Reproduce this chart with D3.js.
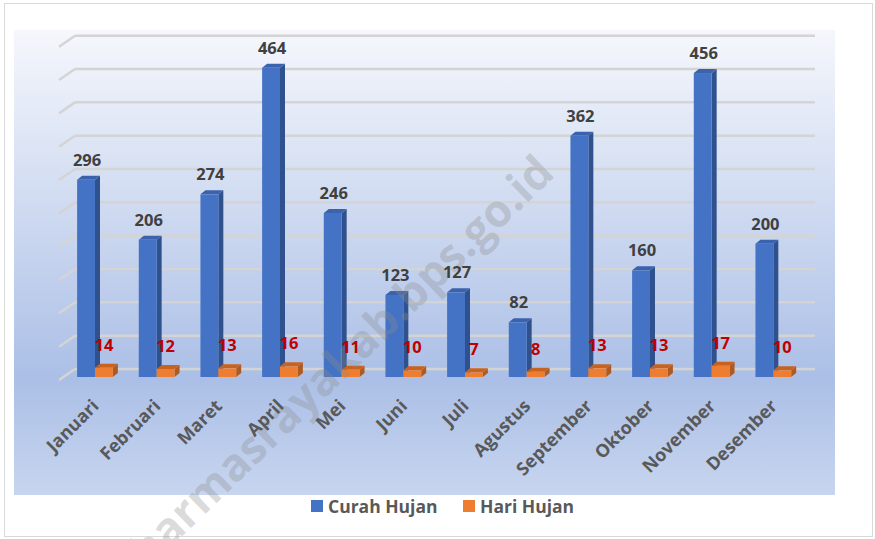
<!DOCTYPE html>
<html>
<head>
<meta charset="utf-8">
<script src="https://cdn.jsdelivr.net/npm/d3@7"></script>
<style>
  body { margin: 0; background: #fff; }
  text { font-family: "Open Sans", "Noto Sans", sans-serif; font-weight: bold; }
</style>
</head>
<body>
<div id="chart"></div>
<script>
const months = ["Januari", "Februari", "Maret", "April", "Mei", "Juni", "Juli", "Agustus", "September", "Oktober", "November", "Desember"]
const curahHujan = [296, 206, 274, 464, 246, 123, 127, 82, 362, 160, 456, 200]
const hariHujan = [14, 12, 13, 16, 11, 10, 7, 8, 13, 13, 17, 10]
const seriesNames = ["Curah Hujan", "Hari Hujan"]
const yTicks = [0, 50, 100, 150, 200, 250, 300, 350, 400, 450, 500]

const sizing = { width: 875, height: 539 }
const plot = { left: 14, top: 30, right: 835, bottom: 495 }
const depth = { dx: 5, dy: -4 }        // bar top/side
const colors = {
    "Curah Hujan": { front: "#4472c4", side: "#2f528f", top: "#3a62ad" },
    "Hari Hujan": { front: "#ed7d31", side: "#ae5a21", top: "#c7621f" }
}

const data = months.map((m, i) => ({ month: m, "Curah Hujan": curahHujan[i], "Hari Hujan": hariHujan[i] }))

const svg = d3.select("#chart").append("svg")
    .attr("width", sizing.width)
    .attr("height", sizing.height)

const defs = svg.append("defs")
const grad = defs.append("linearGradient").attr("id", "bg")
    .attr("x1", 0).attr("y1", 0).attr("x2", 0).attr("y2", 1)
grad.append("stop").attr("offset", "0%").attr("stop-color", "#f5f7fc")
grad.append("stop").attr("offset", "75%").attr("stop-color", "#abbfe6")
grad.append("stop").attr("offset", "100%").attr("stop-color", "#c7d5ef")

svg.append("rect")
    .attr("x", 4.5).attr("y", 3.5)
    .attr("width", 868).attr("height", 533)
    .attr("fill", "#fff").attr("stroke", "#d9d9d9")

svg.append("rect")
    .attr("x", plot.left).attr("y", plot.top)
    .attr("width", plot.right - plot.left).attr("height", plot.bottom - plot.top)
    .attr("fill", "url(#bg)")

const x = d3.scaleBand().domain(months).range([58, 798])
const xs = d3.scaleBand().domain(seriesNames)
    .range([x.bandwidth() * 0.31, x.bandwidth() * 0.89])
const y = d3.scaleLinear().domain([0, 500]).range([377, 377 - 333.3])

// gridlines on back wall + stubs on side
const grid = svg.append("g")
grid.selectAll("line.back").data(yTicks).join("line")
    .attr("class", "back")
    .attr("x1", 75).attr("x2", 815)
    .attr("y1", d => y(d) - 8).attr("y2", d => y(d) - 8)
    .attr("stroke", "#d4d4d4").attr("stroke-width", 2.5)
grid.selectAll("line.stub").data(yTicks).join("line")
    .attr("class", "stub")
    .attr("x1", 75).attr("x2", 59)
    .attr("y1", d => y(d) - 8).attr("y2", d => y(d) + 3)
    .attr("stroke", "#d4d4d4").attr("stroke-width", 2.5)

// bars
const bars = svg.append("g")
const barW = xs.bandwidth()
seriesNames.forEach(s => {
    const g = bars.append("g")
    const c = colors[s]
    g.selectAll("path.side").data(data).join("path")
        .attr("d", d => {
            const x1 = x(d.month) + xs(s) + barW, y0 = y(0), y1 = y(d[s])
            return `M${x1},${y0}L${x1 + depth.dx},${y0 + depth.dy}L${x1 + depth.dx},${y1 + depth.dy}L${x1},${y1}Z`
        })
        .attr("fill", c.side)
    g.selectAll("path.top").data(data).join("path")
        .attr("d", d => {
            const x0 = x(d.month) + xs(s), y1 = y(d[s])
            return `M${x0},${y1}L${x0 + depth.dx},${y1 + depth.dy}L${x0 + barW + depth.dx},${y1 + depth.dy}L${x0 + barW},${y1}Z`
        })
        .attr("fill", c.top)
    g.selectAll("rect").data(data).join("rect")
        .attr("x", d => x(d.month) + xs(s))
        .attr("y", d => y(d[s]))
        .attr("width", barW)
        .attr("height", d => y(0) - y(d[s]))
        .attr("fill", c.front)
})

// watermark
svg.append("text")
    .attr("transform", "translate(528,146) rotate(-44)")
    .attr("text-anchor", "end")
    .attr("dy", "0.9em")
    .attr("font-size", 45)
    .attr("fill", "#8c8c8c")
    .attr("fill-opacity", 0.32)
    .text("dharmasrayakab.bps.go.id")

// value labels
svg.append("g").selectAll("text").data(data).join("text")
    .attr("x", d => x(d.month) + xs("Curah Hujan") + barW / 2 + 1)
    .attr("y", d => y(d["Curah Hujan"]) - 14)
    .attr("text-anchor", "middle")
    .attr("font-size", 16.5)
    .attr("fill", "#404040")
    .text(d => d["Curah Hujan"])

svg.append("g").selectAll("text").data(data).join("text")
    .attr("x", d => x(d.month) + xs("Hari Hujan") + barW / 2)
    .attr("y", d => y(d["Hari Hujan"]) - 17)
    .attr("text-anchor", "middle")
    .attr("font-size", 16.5)
    .attr("fill", "#c00000")
    .text(d => d["Hari Hujan"])

// month labels
svg.append("g").selectAll("text").data(months).join("text")
    .attr("transform", d => `translate(${x(d) + x.bandwidth() / 2 + 2},${398}) rotate(-45)`)
    .attr("text-anchor", "end")
    .attr("dy", "0.72em")
    .attr("font-size", 18)
    .attr("fill", "#595959")
    .text(d => d)

// legend
const legend = svg.append("g").attr("transform", "translate(311,500)")
const legendX = [0, 152]
seriesNames.forEach((s, i) => {
    legend.append("rect")
        .attr("x", legendX[i]).attr("y", 0)
        .attr("width", 12).attr("height", 12)
        .attr("fill", colors[s].front)
    legend.append("text")
        .attr("x", legendX[i] + 17).attr("y", 12.5)
        .attr("font-size", 17.5)
        .attr("fill", "#595959")
        .text(s)
})
</script>
</body>
</html>
